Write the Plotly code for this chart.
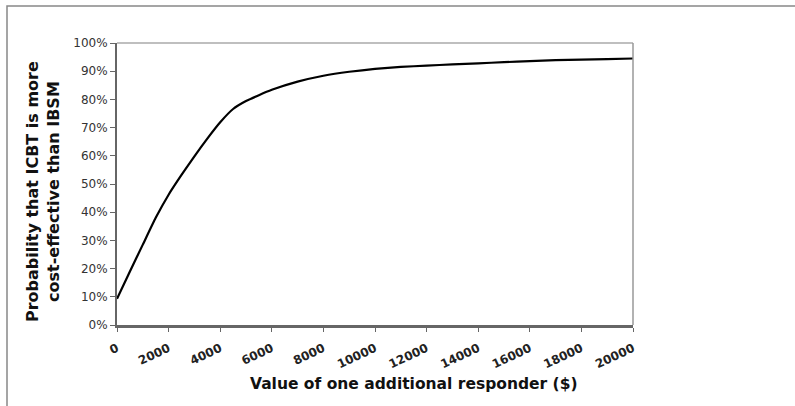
import plotly.graph_objects as go

# Willingness-to-pay values (x) and probability that ICBT is cost-effective (y, %)
wtp = [0, 500, 1000, 1500, 2000, 2500, 3000, 3500, 4000, 4500, 5000, 5500, 6000,
       7000, 8000, 9000, 10000, 11000, 12000, 13000, 14000, 15000, 16000,
       17000, 18000, 19000, 20000]
prob = [9.3, 19.0, 28.5, 38.0, 46.2, 53.2, 59.8, 66.1, 71.9, 76.6, 79.4, 81.5, 83.4,
        86.3, 88.4, 89.8, 90.8, 91.5, 92.0, 92.4, 92.8, 93.2, 93.6,
        93.9, 94.1, 94.3, 94.5]

x_ticks = list(range(0, 20001, 2000))
y_ticks = list(range(0, 101, 10))

L, R, T, B = 117, 162, 43, 81
W, H = 795, 406
pw, ph = W - L - R, H - T - B

def px_x(v):
    return (v - L) / pw

def px_y(v):
    return (H - B - v) / ph

FONT = "DejaVu Sans, Verdana, sans-serif"

fig = go.Figure()
fig.add_trace(go.Scatter(
    x=wtp, y=prob, mode="lines",
    line=dict(color="#000000", width=2.2, shape="spline", smoothing=0.4),
    showlegend=False, hoverinfo="skip",
))

fig.update_layout(
    width=W, height=H,
    margin=dict(l=L, r=R, t=T, b=B, pad=0),
    paper_bgcolor="white", plot_bgcolor="white",
    font=dict(family=FONT, color="#333333"),
    xaxis=dict(
        range=[0, 20000], tickvals=x_ticks, ticktext=[str(v) for v in x_ticks],
        tickangle=-25, ticks="outside", ticklen=4, tickcolor="#666666",
        ticklabelstandoff=5,
        tickfont=dict(size=12, color="#222222", family=FONT, weight="bold"),
        showline=True, linecolor="#666666", linewidth=3,
        showgrid=False, zeroline=False, mirror=False,
    ),
    yaxis=dict(
        range=[0, 100], tickvals=y_ticks, ticktext=[f"{v}%" for v in y_ticks],
        ticks="outside", ticklen=5, tickcolor="#666666",
        tickfont=dict(size=12, color="#333333"),
        showline=True, linecolor="#666666", linewidth=2,
        showgrid=False, zeroline=False,
    ),
    shapes=[
        # top and right edges of the plotting area
        dict(type="line", xref="paper", yref="paper", x0=0, x1=1, y0=1, y1=1,
             line=dict(color="#aaaaaa", width=1.5)),
        dict(type="line", xref="paper", yref="paper", x0=1, x1=1, y0=0, y1=1,
             line=dict(color="#999999", width=1.5)),
        # outer chart frame
        dict(type="rect", xref="paper", yref="paper",
             x0=px_x(7), x1=px_x(900), y0=px_y(500), y1=px_y(6),
             line=dict(color="#888888", width=1.5), fillcolor="rgba(0,0,0,0)",
             layer="below"),
    ],
    annotations=[
        dict(text="Probability that ICBT is more<br>cost-effective than IBSM",
             xref="paper", yref="paper", x=px_x(43), y=px_y(192),
             textangle=-90, showarrow=False, xanchor="center", yanchor="middle",
             font=dict(size=16, color="#111111", weight="bold")),
        dict(text="Value of one additional responder ($)",
             xref="paper", yref="paper", x=px_x(414), y=px_y(384),
             showarrow=False, xanchor="center", yanchor="middle",
             font=dict(size=15.5, color="#111111", weight="bold")),
    ],
)

fig.write_html("out.html")
